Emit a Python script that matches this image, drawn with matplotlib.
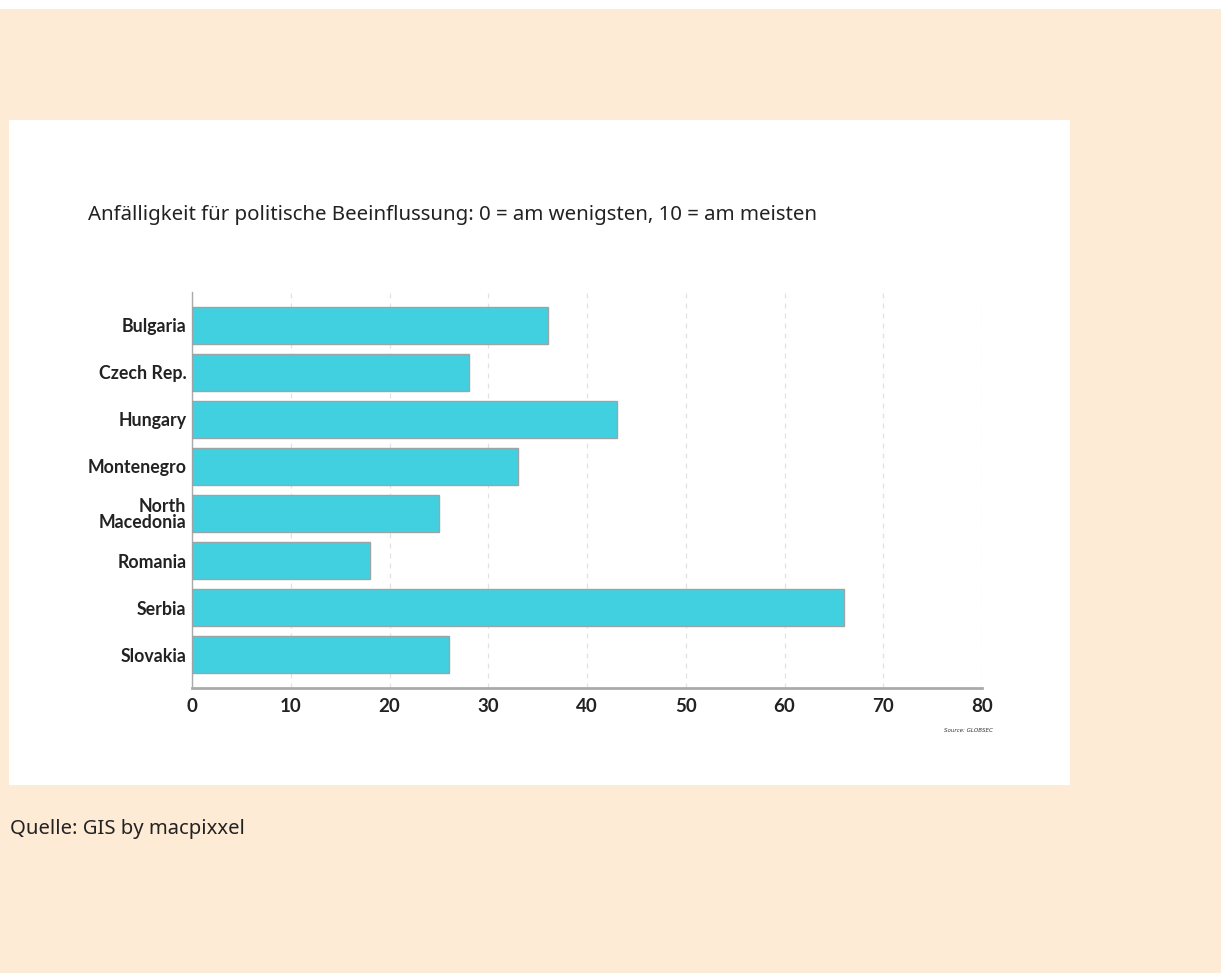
import matplotlib.pyplot as plt
from matplotlib.patches import Rectangle

laender = ['Bulgaria', 'Czech Rep.', 'Hungary', 'Montenegro', 'North\nMacedonia',
           'Romania', 'Serbia', 'Slovakia']
werte = [36, 28, 43, 33, 25, 18, 66, 26]
x_ticks = [0, 10, 20, 30, 40, 50, 60, 70, 80]

W, H = 1221, 973
fig = plt.figure(figsize=(W / 100, H / 100), dpi=100)
fig.patch.set_facecolor('#feebd6')

# weisser Streifen oben und weisse Karte
fig.patches.append(Rectangle((0, 1 - 9 / H), 1, 9 / H, transform=fig.transFigure,
                             facecolor='white', edgecolor='none', zorder=-5))
fig.patches.append(Rectangle((9 / W, 1 - 785 / H), (1070 - 9) / W, (785 - 120) / H,
                             transform=fig.transFigure, facecolor='white',
                             edgecolor='none', zorder=-5))

ax = fig.add_axes([192 / W, 1 - 688 / H, (982 - 192) / W, (688 - 292) / H], zorder=2)
ax.set_facecolor('white')
pos = list(range(len(laender)))
ax.barh(pos, werte, height=0.79, color='#41d0e0', edgecolor='#9aa5a8', linewidth=1, zorder=3)
ax.set_xlim(0, 80)
ax.set_ylim(len(laender) - 1 + 0.71, -0.71)
ax.set_xticks(x_ticks)
ax.set_yticks(pos)
ax.set_yticklabels(laender, fontfamily='Lato', fontweight='bold', fontsize=12.8,
                   color='#222222', linespacing=0.95)
ax.set_xticklabels([str(t) for t in x_ticks], fontfamily='Lato', fontweight='bold',
                   fontsize=13.5, color='#222222')
ax.tick_params(axis='both', length=0)
ax.tick_params(axis='y', pad=4)
ax.tick_params(axis='x', pad=7)
ax.grid(axis='x', color='#e2e2e2', linestyle=(0, (4, 4)), linewidth=0.9, zorder=0)
for s in ['top', 'right']:
    ax.spines[s].set_visible(False)
ax.spines['left'].set_color('#aaaaaa')
ax.spines['left'].set_linewidth(1)
ax.spines['bottom'].set_color('#aaaaaa')
ax.spines['bottom'].set_linewidth(2)

fig.text(88 / W, 1 - 215 / H,
         'Anfälligkeit für politische Beeinflussung: 0 = am wenigsten, 10 = am meisten',
         fontfamily='Noto Sans', fontsize=14.7, color='#222222', va='center', ha='left')
fig.text(993 / W, 1 - 731 / H, 'Source: GLOBSEC', fontfamily='DejaVu Sans',
         fontstyle='italic', fontsize=4, color='#333333', va='center', ha='right')
fig.text(10 / W, 1 - 829 / H, 'Quelle: GIS by macpixxel', fontfamily='Noto Sans',
         fontsize=14.6, color='#222222', va='center', ha='left')

fig.savefig('out.png', dpi=100, facecolor=fig.get_facecolor())
